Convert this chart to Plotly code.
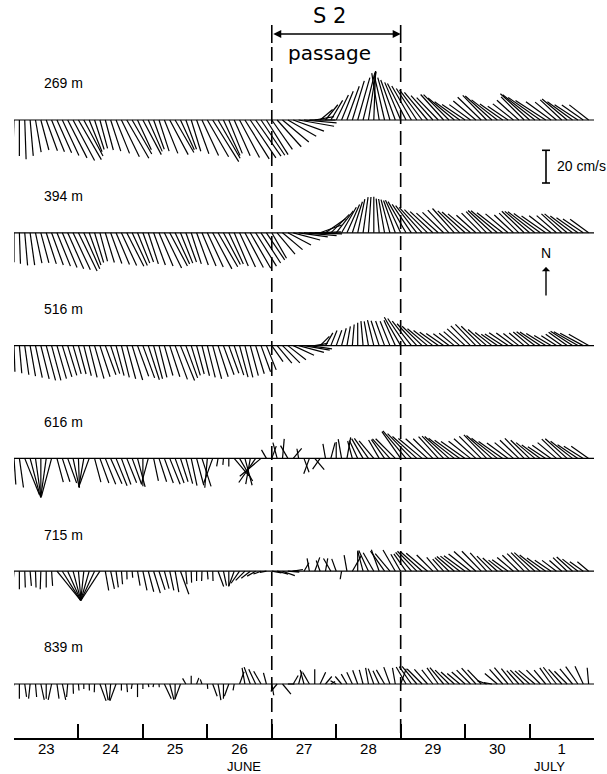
import numpy as np
import plotly.graph_objects as go

# ---------------- data ----------------
day_ticks = [23, 24, 25, 26, 27, 28, 29, 30, 31, 32]
day_centers = [23.5, 24.5, 25.5, 26.5, 27.5, 28.5, 29.5, 30.5, 31.5]
day_labels = ["23", "24", "25", "26", "27", "28", "29", "30", "1"]
depth_labels = ["269 m", "394 m", "516 m", "616 m", "715 m", "839 m"]
passage = [27.0, 29.0]
scale_cms = 20
# 2-hourly samples, June 23 00h .. July 1 22h ; direction toward (deg from N), speed cm/s
dir269 = [182,180,178,175,170,165,160,158,156,155,153,152,
          150,152,158,162,165,165,162,158,154,150,150,155,
          152,156,160,162,158,152,150,155,160,163,160,155,
          150,148,150,155,158,156,152,148,146,145,146,148,
          145,138,130,120,110,100,95,90,80,50,39,31,
          26,22,20,17,16,14,9,2,351,347,344,340,
          337,333,330,327,323,320,318,316,318,315,310,306,
          304,306,310,314,316,312,308,305,304,308,312,315,
          312,308,305,303,306,310,313,310,306,303,305,308]
spd269 = [20,22,24,22,20,19,20,21,22,24,26,28,
          28,25,21,19,18,19,20,22,25,27,24,20,
          24,21,19,20,22,24,23,20,19,20,22,24,
          26,30,27,24,22,24,26,28,28,27,26,25,
          22,22,21,20,20,22,20,16,12,10,12,14,
          17,19,22,25,27,30,30,30,29,28,27,26,
          25,25,24,23,23,22,20,19,21,22,21,19,
          17,16,18,20,21,22,20,17,15,16,18,20,
          24,25,24,22,19,17,18,20,19,17,16,15]
dir394 = [180,178,175,172,168,165,162,160,158,157,156,155,
          154,156,160,163,165,163,160,157,155,153,155,158,
          160,162,160,157,154,152,155,158,160,162,160,157,
          155,152,150,152,155,157,155,152,150,148,147,146,
          150,140,130,118,105,98,95,92,88,70,55,45,
          38,30,24,18,12,8,4,0,355,350,345,340,
          335,330,326,322,318,315,313,312,314,317,318,315,
          312,310,312,315,316,313,310,308,310,313,315,314,
          311,308,306,305,308,311,313,310,307,305,304,306]
spd394 = [18,19,20,20,19,19,20,21,22,23,24,25,
          26,24,21,19,18,19,20,21,22,23,22,20,
          19,20,21,22,24,23,21,20,19,20,21,22,
          23,25,24,22,21,22,23,24,25,24,22,20,
          18,17,16,16,17,18,20,20,16,14,15,16,
          17,18,19,20,21,22,22,22,21,21,21,21,
          22,22,21,21,21,20,19,18,18,19,20,19,
          19,18,16,17,18,20,21,20,18,16,17,19,
          20,21,20,18,17,16,17,18,17,16,15,14]
dir516 = [178,175,172,170,168,166,165,165,164,163,163,164,
          165,166,166,164,162,160,162,165,166,165,163,160,
          160,162,165,166,164,162,160,158,160,163,165,166,
          166,165,162,160,160,162,165,166,165,163,160,158,
          145,140,135,128,115,105,100,98,80,45,30,22,
          20,15,10,5,0,355,350,346,342,340,338,336,
          330,326,322,318,314,310,308,306,305,307,309,311,
          313,315,316,314,311,308,305,303,304,306,308,310,
          310,307,304,302,301,303,305,306,303,300,298,300]
spd516 = [16,17,18,19,20,21,22,22,21,20,19,18,
          18,19,20,21,20,19,18,19,20,21,22,20,
          21,22,21,20,19,20,22,23,21,19,18,19,
          20,21,20,19,18,19,20,20,19,18,17,16,
          12,14,15,14,14,16,16,14,8,8,9,10,
          10,11,12,13,14,15,15,16,16,16,16,17,
          20,20,19,18,17,16,15,14,13,12,12,13,
          15,17,18,17,15,13,12,13,14,13,12,12,
          13,14,15,14,12,11,12,14,16,17,16,14]
dir616 = [176,172,158,165,172,180,188,195,165,162,160,168,
          178,190,200,165,160,158,156,158,160,158,160,165,
          180,195,168,162,160,158,160,162,165,168,165,162,
          185,200,190,185,180,140,150,165,190,215,230,330,
          20,345,5,330,40,350,160,200,140,215,350,15,
          0,350,10,345,335,330,325,320,330,325,318,315,
          325,320,316,312,310,312,315,318,316,312,308,306,
          305,308,312,315,316,312,308,305,306,310,314,316,
          314,310,306,303,305,310,314,312,308,304,302,305]
spd616 = [16,18,24,24,24,24,24,24,15,15,16,18,
          18,18,17,15,16,17,17,18,17,16,17,18,
          17,16,14,15,16,17,16,15,16,17,17,18,
          18,16,5,4,5,14,16,17,16,18,17,6,
          8,10,12,9,8,6,9,10,9,8,9,10,
          10,12,13,11,12,14,15,14,13,14,16,17,
          20,22,21,20,19,18,17,18,19,20,20,19,
          18,17,18,19,20,21,20,18,16,15,16,17,
          16,15,14,13,14,15,17,18,17,15,14,13]
dir715 = [185,180,178,175,178,182,180,176,141,148,156,165,
          175,186,196,205,213,170,168,172,175,178,175,170,
          168,165,163,162,165,168,170,160,175,178,180,182,
          175,178,160,168,180,200,215,225,232,240,250,260,
          100,105,110,95,80,270,30,350,20,340,10,330,
          340,190,350,30,0,345,335,330,340,325,320,330,
          330,325,320,316,312,310,315,320,318,314,310,308,
          306,308,312,316,318,315,312,308,306,310,314,316,
          315,312,308,305,304,307,311,314,312,308,305,310]
spd715 = [15,11,10,9,10,11,10,9,23,21,19,18,
          18,18,18,20,21,12,11,10,8,5,4,9,
          12,13,14,12,11,12,13,15,8,7,6,6,
          5,6,10,9,9,10,9,8,7,6,5,4,
          6,7,8,7,6,4,6,8,9,7,8,9,
          8,5,10,11,12,13,14,13,14,15,14,15,
          12,13,15,17,18,17,14,11,10,12,14,15,
          16,17,18,17,15,13,12,11,12,13,14,15,
          16,17,16,14,12,11,10,12,13,12,10,9]
dir839 = [195,180,172,186,175,168,180,192,172,168,185,178,
          175,180,178,182,160,170,185,200,180,175,190,180,
          180,170,190,175,155,165,180,200,330,0,20,340,
          175,160,170,180,200,190,20,350,340,335,330,345,
          170,220,140,90,30,15,345,330,0,25,40,60,
          300,320,330,335,340,345,350,340,335,330,340,350,
          20,330,325,320,315,318,322,325,320,315,312,310,
          312,315,318,316,290,280,310,318,320,322,318,315,
          312,310,315,320,325,322,318,315,320,325,335,355]
spd839 = [15,9,8,9,8,10,9,10,9,10,8,6,
          4,3,4,5,11,10,10,11,4,5,3,8,
          3,2,2,2,10,10,9,10,4,5,4,3,
          3,8,10,9,8,4,8,10,11,10,9,7,
          7,6,8,4,6,8,9,8,9,8,6,3,
          4,6,7,8,9,9,10,10,9,10,11,10,
          10,12,13,14,13,12,11,12,13,12,11,10,
          11,12,13,12,6,5,10,12,13,12,11,12,
          12,13,12,11,12,13,12,11,12,13,12,10]

rows = [(dir269, spd269), (dir394, spd394), (dir516, spd516),
        (dir616, spd616), (dir715, spd715), (dir839, spd839)]

# ---------------- layout geometry ----------------
W, H = 607, 774
ML, MR, MT, MB = 14, 13, 0, 36
PW, PH = W - ML - MR, H - MT - MB
PX_DAY = PW / 9.0
PX_CMS = 1.635            # 20 cm/s = 32.7 px
YMAX = PH / PX_CMS
KX = PX_CMS / PX_DAY      # days per cm/s (isotropic sticks)
ROW_PX = [120, 232.8, 345.6, 458.4, 571.2, 684]
LABEL_PX = [83, 196, 309, 421.7, 534.5, 647.3]
FONT = "Liberation Sans"

def yu(px):
    return (PH - px) / PX_CMS

def xpp(px):
    return (px - ML) / PW

def ypp(px):
    return (PH - px) / PH

fig = go.Figure()

n = len(dir269)
t = 23 + np.arange(n) * 2.0 / 24.0
for (d, s), rpx in zip(rows, ROW_PX):
    base = yu(rpx)
    d = np.radians(np.array(d, float))
    s = np.array(s, float)
    u = s * np.sin(d)
    v = s * np.cos(d)
    xs = [23.0, 32.0, None]
    ys = [base, base, None]
    for ti, ui, vi in zip(t, u, v):
        xs += [ti, ti + ui * KX, None]
        ys += [base, base + vi, None]
    fig.add_trace(go.Scatter(x=xs, y=ys, mode="lines",
                             line=dict(color="black", width=1.2),
                             hoverinfo="skip", showlegend=False))

# passage dashed lines
for xv in passage:
    fig.add_trace(go.Scatter(x=[xv, xv], y=[yu(25), yu(43)], mode="lines",
                             line=dict(color="black", width=1.6),
                             hoverinfo="skip", showlegend=False))
    fig.add_trace(go.Scatter(x=[xv, xv], y=[yu(47), 0], mode="lines",
                             line=dict(color="black", width=1.6, dash="14px,7px"),
                             hoverinfo="skip", showlegend=False))

# scale bar
x_sb = 23 + (546 - ML) / PX_DAY
cap = 4 / PX_DAY
y0 = yu(183)
fig.add_trace(go.Scatter(
    x=[x_sb, x_sb, None, x_sb - cap, x_sb + cap, None, x_sb - cap, x_sb + cap],
    y=[y0, y0 + scale_cms, None, y0, y0, None, y0 + scale_cms, y0 + scale_cms],
    mode="lines", line=dict(color="black", width=1.6),
    hoverinfo="skip", showlegend=False))

# dummy trace for label axis
fig.add_trace(go.Scatter(x=[], y=[], xaxis="x2", showlegend=False))

ann = []
for lab, lpx in zip(depth_labels, LABEL_PX):
    ann.append(dict(text=lab, x=xpp(42), y=ypp(lpx), xref="paper", yref="paper",
                    xanchor="left", yanchor="middle", showarrow=False,
                    font=dict(family=FONT, size=14, color="black")))
ann.append(dict(text="S 2", x=xpp(329), y=ypp(16), xref="paper", yref="paper",
                xanchor="center", yanchor="middle", showarrow=False,
                font=dict(family="DejaVu Sans", size=21, color="black")))
ann.append(dict(text="passage", x=xpp(329), y=ypp(53), xref="paper", yref="paper",
                xanchor="center", yanchor="middle", showarrow=False,
                font=dict(family="DejaVu Sans", size=20, color="black")))
ann.append(dict(text="", x=passage[1], y=yu(34), ax=passage[0], ay=yu(34),
                xref="x", yref="y", axref="x", ayref="y", showarrow=True,
                arrowhead=2, arrowside="end+start", arrowsize=1, arrowwidth=1.6,
                arrowcolor="black", standoff=0, startstandoff=0))
ann.append(dict(text="20 cm/s", x=xpp(555), y=ypp(166.5), xref="paper", yref="paper",
                xanchor="left", yanchor="middle", showarrow=False,
                font=dict(family=FONT, size=14, color="black")))
ann.append(dict(text="N", x=xpp(546), y=ypp(253), xref="paper", yref="paper",
                xanchor="center", yanchor="middle", showarrow=False,
                font=dict(family=FONT, size=14, color="black")))
ann.append(dict(text="", x=x_sb, y=yu(267), ax=x_sb, ay=yu(297),
                xref="x", yref="y", axref="x", ayref="y", showarrow=True,
                arrowhead=1, arrowsize=1, arrowwidth=1.4, arrowcolor="black",
                standoff=0))
for mtxt, mpx in [("JUNE", 243.7), ("JULY", 549.5)]:
    ann.append(dict(text=mtxt, x=xpp(mpx), y=ypp(766.5), xref="paper", yref="paper",
                    xanchor="center", yanchor="middle", showarrow=False,
                    borderpad=0,
                    font=dict(family=FONT, size=13, color="black")))

fig.update_layout(
    width=W, height=H, autosize=False,
    margin=dict(l=ML, r=MR, t=MT, b=MB, pad=0),
    paper_bgcolor="white", plot_bgcolor="white",
    showlegend=False,
    annotations=ann,
    xaxis=dict(range=[23, 32], tickmode="array", tickvals=day_ticks,
               showticklabels=False, ticks="inside", ticklen=14, tickwidth=1.6,
               tickcolor="black", showline=True, linecolor="black", linewidth=2,
               showgrid=False, zeroline=False, fixedrange=True),
    xaxis2=dict(range=[23, 32], overlaying="x", anchor="y", side="bottom",
                tickmode="array", tickvals=day_centers, ticktext=day_labels,
                ticks="", showline=False, showgrid=False, zeroline=False,
                tickfont=dict(family=FONT, size=15, color="black"),
                fixedrange=True),
    yaxis=dict(range=[0, YMAX], visible=False, showgrid=False, zeroline=False,
               fixedrange=True),
)

fig.write_html("out.html")
